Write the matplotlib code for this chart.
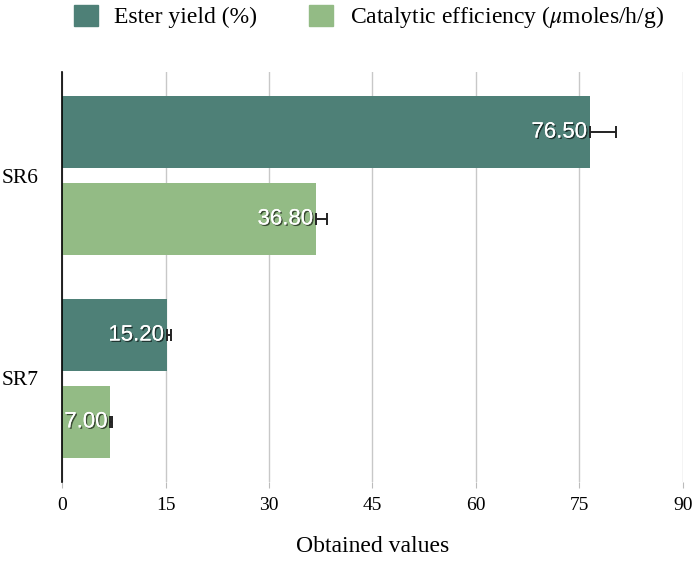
import numpy as np
import matplotlib
matplotlib.use("Agg")
import matplotlib.pyplot as plt
import matplotlib.patheffects as pe
from matplotlib.patches import Patch

plt.rcParams['font.family'] = ['Liberation Serif', 'DejaVu Serif']
plt.rcParams['mathtext.fontset'] = 'stix'

# data
samples = ['SR6', 'SR7']
ester_yield = [76.50, 15.20]
ester_err = [3.8, 0.6]
cat_eff = [36.80, 7.00]
cat_err = [1.6, 0.3]
series_names = ['Ester yield (%)', r'Catalytic efficiency ($\mu$moles/h/g)']
x_ticks = [0, 15, 30, 45, 60, 75, 90]

c_ester = '#4e8077'
c_cat = '#93bb85'

fig = plt.figure(figsize=(6.96, 5.64), dpi=100)
ax = fig.add_axes([0.0891, 0.1454, 0.8922, 0.7269])

pos = np.arange(len(samples))
h = 0.355
off = 0.214

ax.barh(pos - off, ester_yield, height=h, color=c_ester, zorder=2)
ax.barh(pos + off, cat_eff, height=h, color=c_cat, zorder=2)
ax.errorbar(ester_yield, pos - off, xerr=[np.zeros(2), ester_err], fmt='none',
            ecolor='#222222', elinewidth=1.4, capsize=4, capthick=1.4, zorder=3)
ax.errorbar(cat_eff, pos + off, xerr=[np.zeros(2), cat_err], fmt='none',
            ecolor='#222222', elinewidth=1.4, capsize=4, capthick=1.4, zorder=3)

shadow = [pe.withSimplePatchShadow(offset=(1, -1), shadow_rgbFace='black', alpha=0.6),
          pe.Normal()]
for vals, ys in [(ester_yield, pos - off), (cat_eff, pos + off)]:
    for v, y in zip(vals, ys):
        ax.text(v - 0.4, y, f'{v:.2f}', ha='right', va='center', color='white',
                fontsize=16, family='Liberation Sans', path_effects=shadow, zorder=4)

ax.set_xlim(0, 90)
ax.set_ylim(1.51, -0.51)
ax.set_xticks(x_ticks)
ax.set_xticklabels([str(t) for t in x_ticks], fontsize=14)
ax.set_yticks(pos)
ax.set_yticklabels(samples, fontsize=15.5)
ax.tick_params(axis='y', length=0, pad=17)
ax.tick_params(axis='x', length=4, color='#bbbbbb', pad=7)
ax.grid(axis='x', color='#c8c8c8', linewidth=1, zorder=0)
for s in ['top', 'right', 'bottom']:
    ax.spines[s].set_visible(False)
ax.spines['left'].set_color('black')
ax.spines['left'].set_linewidth(1.2)
ax.spines['left'].set_zorder(5)
ax.set_xlabel('Obtained values', fontsize=17, labelpad=16)

handles = [Patch(color=c_ester, label=series_names[0]),
           Patch(color=c_cat, label=series_names[1])]
fig.legend(handles=handles, loc='upper center', bbox_to_anchor=(0.53, 1.03), ncol=2,
           frameon=False, fontsize=17, handlelength=1.0, handleheight=1.0,
           handletextpad=0.7, columnspacing=2.2)

fig.savefig('out.png', dpi=100)
